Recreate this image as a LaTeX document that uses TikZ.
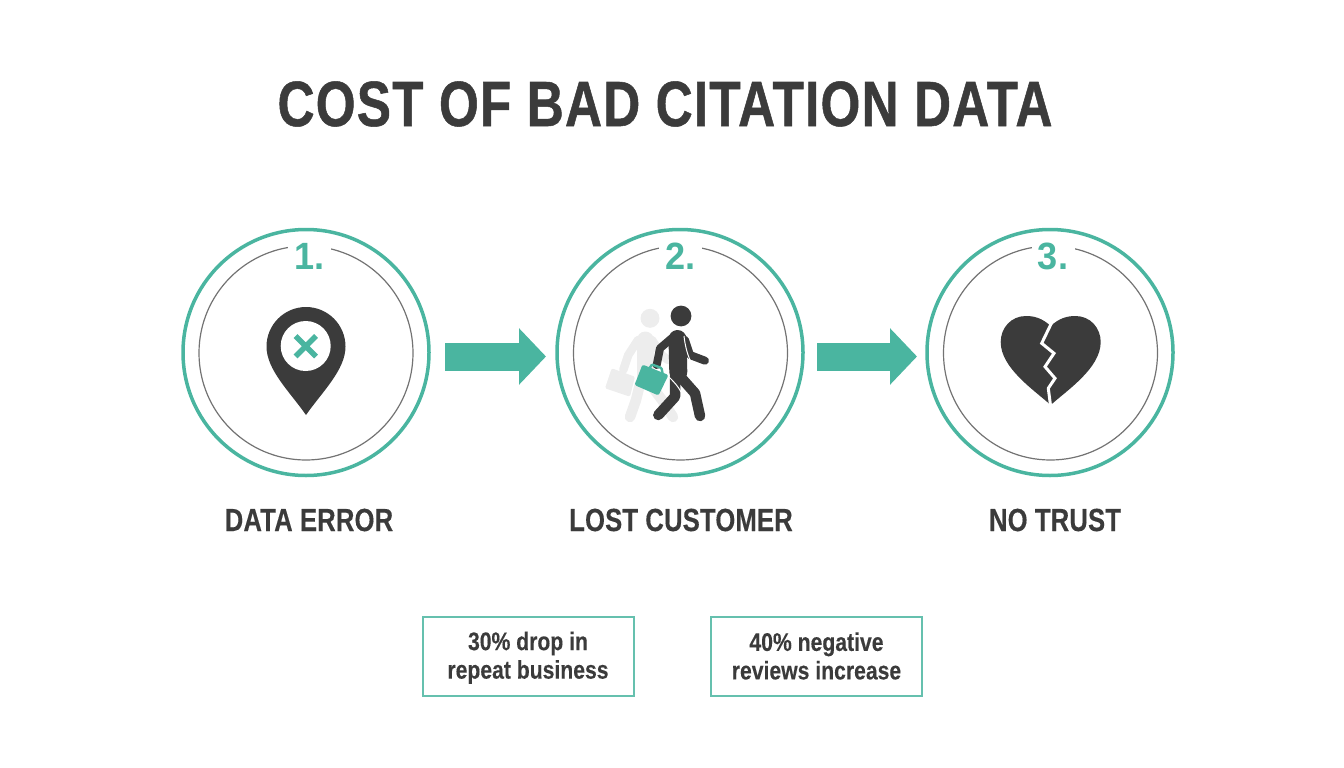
\documentclass[tikz,border=0pt]{standalone}
\usepackage{fontspec}
\usetikzlibrary{arrows.meta}
\setmainfont[FakeStretch=0.8]{Liberation Sans}
\definecolor{teal1}{HTML}{4AB5A0}
\definecolor{ink}{HTML}{3B3B3B}
\definecolor{ghost}{HTML}{EDEDED}
\tikzset{
  ring/.style={circle,draw=teal1,line width=3.5pt,minimum size=246pt,inner sep=0pt,outer sep=0pt},
  innerring/.style={circle,draw=black!55,line width=1.2pt,minimum size=214pt,inner sep=0pt},
  numlabel/.style={fill=white,text=teal1,font=\bfseries\fontsize{38}{38}\selectfont\addfontfeatures{FakeStretch=0.95},inner sep=0pt,minimum width=43pt,minimum height=26pt},
  steplabel/.style={text=ink,font=\bfseries\fontsize{32}{32}\selectfont\addfontfeatures{LetterSpace=0.6,FakeBold=0.3},inner sep=0pt},
  flow/.style={draw=teal1,line width=28pt,-{Triangle[length=27pt,width=55pt]}},
  statbox/.style={draw=teal1!85!white,line width=2pt,text=ink,align=center,minimum width=211pt,minimum height=79pt,inner sep=0pt,font=\bfseries\fontsize{25.5}{28.5}\selectfont\addfontfeatures{FakeStretch=0.83,FakeBold=0.2}},
  limb/.style={line cap=round,line join=round}
}
\begin{document}
\begin{tikzpicture}[x=1pt,y=-1pt]
\useasboundingbox (0,0) rectangle (1344,768);
\node[text=ink,font=\bfseries\fontsize{64}{64}\selectfont\addfontfeatures{LetterSpace=1.95,FakeBold=0.8},inner sep=0pt] (title) at (665,104) {COST OF BAD CITATION DATA};

% rings
\node[ring] (c1) at (306,352.5) {};
\node[ring] (c2) at (680,352.5) {};
\node[ring] (c3) at (1050,352.5) {};
\node[innerring] (i1) at (306,353) {};
\node[innerring] (i2) at (680.5,353) {};
\node[innerring] (i3) at (1050.5,353) {};
\node[numlabel] (n1) at (309.5,256) {1.};
\node[numlabel] (n2) at (680.5,256) {2.};
\node[numlabel] (n3) at (1053,256) {3.};

% connectors
\draw[flow] ([xshift=16pt,yshift=-4pt]c1.east) -- ([xshift=-11pt,yshift=-4pt]c2.west);
\draw[flow] ([xshift=14pt,yshift=-4pt]c2.east) -- ([xshift=-10pt,yshift=-4pt]c3.west);

% pin
\fill[ink] (266.5,346.5) .. controls (266.5,325) and (284,307) .. (306,307)
  .. controls (328,307) and (345.5,325) .. (345.5,346.5)
  .. controls (345.5,370) and (322,392) .. (306,415)
  .. controls (290,392) and (266.5,370) .. (266.5,346.5) -- cycle;
\fill[white] (305.7,346) circle (25);
\draw[teal1,line width=5.5pt] (295.5,336) -- (316,356.5) (316,336) -- (295.5,356.5);

% ghost walker
\fill[ghost] (650,318.3) circle (9.5);
\draw[ghost,limb,line width=17pt] (645,340) -- (645,378);
\draw[ghost,limb,line width=8.5pt] (638,340) -- (628.3,355) -- (623.3,370);
\draw[ghost,limb,line width=8.5pt] (652,340) -- (661.7,355) -- (668,360);
\draw[ghost,limb,line width=10.5pt] (640,384) -- (636,400) -- (630,417);
\draw[ghost,limb,line width=10.5pt] (650,384) -- (662,400) -- (673,417);
\fill[ghost,rounded corners=1.5pt] (611.7,368.3) -- (635,376.7) -- (630,396.7) -- (605,388.3) -- cycle;

% walker
\fill[ink] (681,316) circle (10.4);
\draw[ink,limb,line width=8pt] (671.7,338.3) -- (660,348.3) -- (656.7,365);
\draw[ink,limb,line width=8pt] (685,340) -- (690,355) -- (705,360.7);
\draw[ink,limb,line width=10.5pt] (675,376.7) -- (675,396.7) -- (658.3,415);
\draw[ink,limb,line width=10.5pt] (681.7,378.3) -- (695,393.3) -- (700,416);
\draw[ink,limb,line width=18pt] (677.5,339) -- (678.3,372);
\draw[white,line width=1pt] (684,336) .. controls (685,345) and (687,353) .. (690,360);
\draw[white,line width=1pt] (668,376) .. controls (674,382) and (678,386) .. (681,392);
% briefcase
\draw[teal1,line width=2.4pt,rounded corners=1pt] (649,369) -- (652,364.5) -- (661.5,368) -- (662.5,373);
\fill[teal1,rounded corners=2pt] (642.5,364.5) -- (668.5,375) -- (658.5,395.5) -- (634.5,385) -- cycle;

% broken heart
\fill[ink] (1050.7,326) .. controls (1042,318) and (1034,316) .. (1026,316)
  .. controls (1011,316) and (1000.7,328) .. (1000.7,342)
  .. controls (1000.7,368) and (1034,390) .. (1050.7,405)
  .. controls (1067.4,390) and (1100.7,368) .. (1100.7,342)
  .. controls (1100.7,328) and (1090.4,316) .. (1075.4,316)
  .. controls (1067.4,316) and (1059.4,318) .. (1050.7,326) -- cycle;
\draw[white,line width=3pt,miter limit=4] (1051.5,323) -- (1041.7,343.3) -- (1054,353.3) -- (1045,366.7) -- (1055,378.3) -- (1048.3,388.3) -- (1050.7,407);

% step labels
\node[steplabel] (l1) at (309,520) {DATA ERROR};
\node[steplabel] (l2) at (681,520) {LOST CUSTOMER};
\node[steplabel] (l3) at (1055,520) {NO TRUST};

% stat boxes
\node[statbox] (b1) at (528,656) {\rule{0pt}{22pt}30\% drop in\\repeat business};
\node[statbox] (b2) at (816.5,656) {40\% negative\\reviews increase};
\end{tikzpicture}
\end{document}
